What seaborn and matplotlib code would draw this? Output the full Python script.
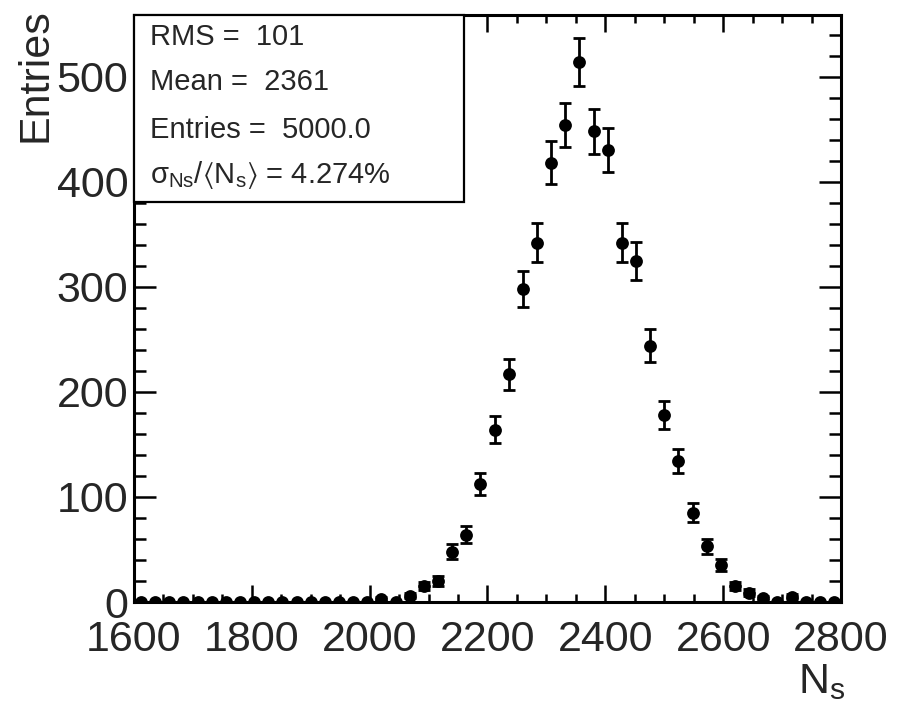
import matplotlib
matplotlib.use("Agg")
import matplotlib.pyplot as plt
from matplotlib.ticker import MultipleLocator
from matplotlib.patches import Rectangle
import seaborn as sns
import numpy as np
import pandas as pd

# histogram of N_s: 50 bins of width 24 between 1600 and 2800
bin_lo, bin_hi, nbins = 1600, 2800, 50
counts = [0, 0, 0, 0, 0, 0, 0, 0, 0, 0,
          0, 0, 0, 0, 0, 0, 0, 3, 0, 6,
          15, 20, 48, 64, 112, 164, 217, 298, 342, 418,
          454, 514, 448, 430, 342, 325, 244, 178, 134, 85,
          53, 35, 15, 9, 4, 0, 5, 0, 0, 0]
stats_lines = ["RMS =  101", "Mean =  2361", "Entries =  5000.0",
               r"$\mathrm{\sigma}_{\rm Ns}/\langle\mathrm{N}_{\rm s}\rangle$ = 4.274%"]

width = (bin_hi - bin_lo) / nbins
centers = bin_lo + width * (np.arange(nbins) + 0.5)
df = pd.DataFrame({"Ns": centers, "Entries": counts})
df["err"] = np.sqrt(df["Entries"])

sns.set_style("ticks")
plt.rcParams["font.family"] = ["Liberation Sans", "DejaVu Sans"]
plt.rcParams["mathtext.fontset"] = "custom"
plt.rcParams["mathtext.rm"] = "Liberation Sans"
plt.rcParams["mathtext.it"] = "Liberation Sans:italic"
plt.rcParams["mathtext.fallback"] = "stixsans"

fig = plt.figure(figsize=(8.99, 7.06), dpi=100)
ax = fig.add_axes([0.149, 0.1473, 0.7865, 0.8315])

ax.errorbar(df["Ns"], df["Entries"], yerr=df["err"], fmt="none",
            ecolor="black", elinewidth=2.0, capsize=4.2, capthick=2.0, zorder=2)
sns.scatterplot(data=df, x="Ns", y="Entries", ax=ax, color="black",
                s=85, edgecolor="black", linewidth=0, zorder=3, legend=False)

ax.set_xlim(bin_lo, bin_hi)
ax.set_ylim(0, 558.8)
ax.xaxis.set_major_locator(MultipleLocator(200))
ax.xaxis.set_minor_locator(MultipleLocator(50))
ax.yaxis.set_major_locator(MultipleLocator(100))
ax.yaxis.set_minor_locator(MultipleLocator(20))
ax.tick_params(which="both", direction="in", top=True, right=True,
               labelsize=31, color="black", width=1.8)
ax.tick_params(axis="x", which="major", length=12, pad=13)
ax.tick_params(axis="x", which="minor", length=6)
ax.tick_params(axis="y", which="major", length=16, pad=4)
ax.tick_params(axis="y", which="minor", length=8.5)
for sp in ax.spines.values():
    sp.set_linewidth(2.2)
    sp.set_color("black")
ax.set_xlabel("")
ax.set_ylabel("")

fig.text(0.040, 0.9887, "Entries", rotation=90, ha="center", va="top", fontsize=31)
fig.text(0.940, 0.0184, r"N$_{\rm s}$", ha="right", va="baseline", fontsize=31)

# stats box
ax.add_patch(Rectangle((0, 0.681), 0.4668, 0.319, transform=ax.transAxes,
                       facecolor="white", edgecolor="black", lw=1.6,
                       zorder=4, clip_on=False))
for txt, yy in zip(stats_lines, [0.9625, 0.886, 0.804, 0.727]):
    ax.text(0.0226, yy, txt, transform=ax.transAxes, ha="left", va="center",
            fontsize=21, zorder=5)

fig.savefig("out.png", dpi=100)
